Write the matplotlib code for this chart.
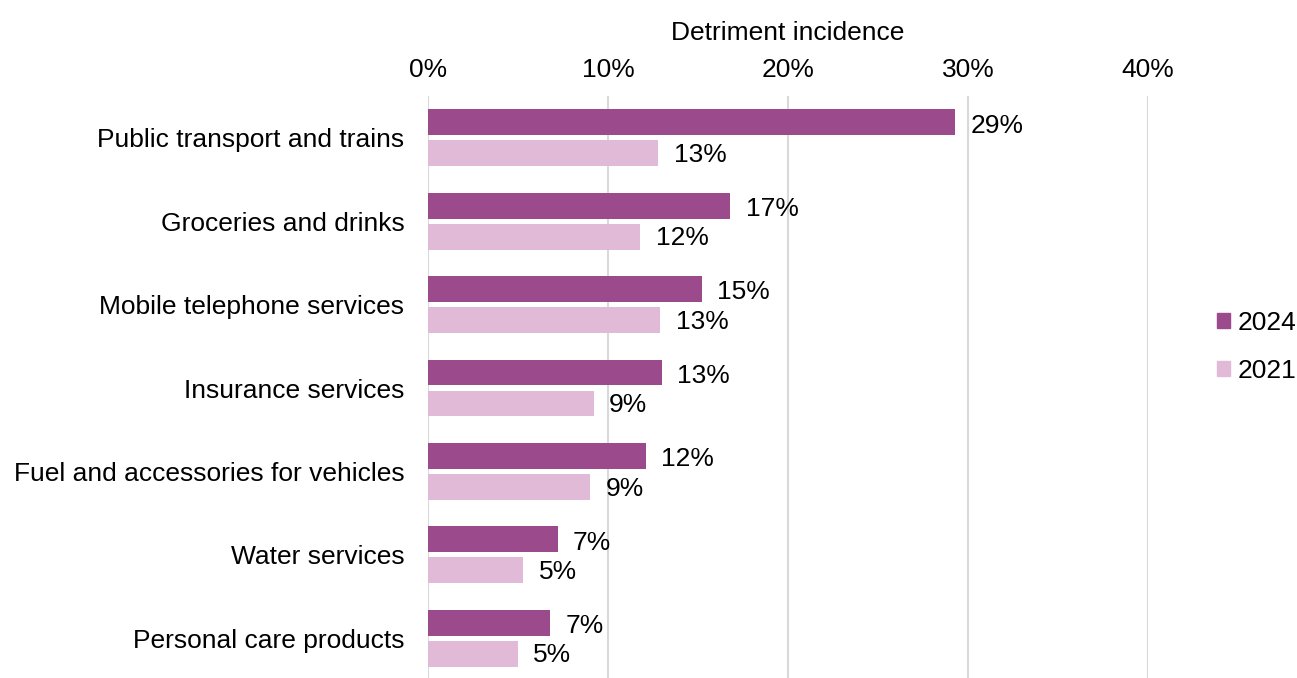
import matplotlib.pyplot as plt
from matplotlib.patches import Patch

categories = ["Public transport and trains", "Groceries and drinks", "Mobile telephone services",
              "Insurance services", "Fuel and accessories for vehicles", "Water services",
              "Personal care products"]
values_2024 = [0.293, 0.168, 0.152, 0.130, 0.121, 0.072, 0.068]
values_2021 = [0.128, 0.118, 0.129, 0.092, 0.090, 0.053, 0.050]
labels_2024 = ["29%", "17%", "15%", "13%", "12%", "7%", "7%"]
labels_2021 = ["13%", "12%", "13%", "9%", "9%", "5%", "5%"]
xticks = [0, 0.1, 0.2, 0.3, 0.4]

dark = "#9B4A8C"
light = "#E0BAD7"

plt.rcParams["font.family"] = ["Liberation Sans", "DejaVu Sans"]
fs = 19

W, H = 1297, 678
fig = plt.figure(figsize=(W / 100, H / 100), dpi=100)
# axes in pixel terms: left 428, 10% = 180 px, top 96, bottom 680
ax = fig.add_axes([428 / W, -2 / H, 720 / W, 584 / H])

y = list(range(len(categories)))
y24 = [i - 0.185 for i in y]
y21 = [i + 0.185 for i in y]
ax.barh(y24, values_2024, height=0.31, color=dark, zorder=3)
ax.barh(y21, values_2021, height=0.31, color=light, zorder=3)

for yy, v, t in zip(y24, values_2024, labels_2024):
    ax.text(v + 0.0085, yy + 0.04, t, va="center", ha="left", fontsize=fs, color="#000000")
for yy, v, t in zip(y21, values_2021, labels_2021):
    ax.text(v + 0.0085, yy + 0.02, t, va="center", ha="left", fontsize=fs, color="#000000")

ax.set_xlim(0, 0.4)
ax.set_ylim(len(categories) - 0.5, -0.5)
ax.set_yticks(y)
ax.set_yticklabels(categories, fontsize=fs)
ax.set_xticks(xticks)
ax.set_xticklabels([f"{int(round(t * 100))}%" for t in xticks], fontsize=fs)
ax.xaxis.tick_top()
ax.xaxis.set_label_position("top")
ax.set_xlabel("Detriment incidence", fontsize=fs, labelpad=13)
ax.tick_params(axis="both", length=0)
ax.tick_params(axis="y", pad=17)
ax.tick_params(axis="x", pad=10)
ax.grid(axis="x", color="#D9D9D9", linewidth=1.5, zorder=0)
for s in ax.spines.values():
    s.set_visible(False)

handles = [Patch(color=dark, label="2024"), Patch(color=light, label="2021")]
fig.legend(handles=handles, loc="center left", bbox_to_anchor=(1217 / W, 1 - 347 / H),
           frameon=False, fontsize=fs, handlelength=0.5, handleheight=0.5,
           handletextpad=0.3, labelspacing=0.9, borderpad=0, borderaxespad=0)

fig.savefig("out.png", dpi=100)
